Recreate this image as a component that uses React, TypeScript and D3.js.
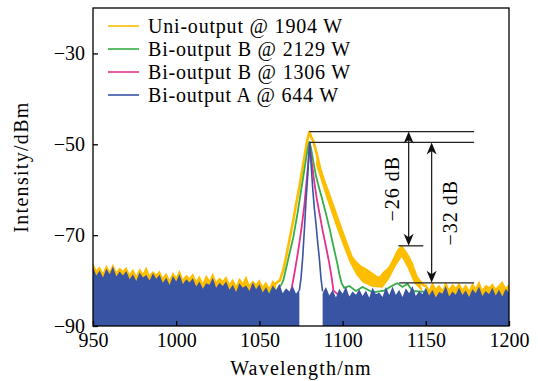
import React, { useEffect, useRef } from 'react';
import * as d3 from 'd3';

// sample grid for the noise floor (nm)
const floorWave = d3.range(950, 1201, 2);

// Bi-output A @ 644 W noise floor (dBm)
const blueFloor = [
  -77.0, -78.9, -77.8, -79.3, -77.4, -78.6, -76.9, -79.1, -78.0, -78.9,
  -77.9, -79.7, -78.6, -80.1, -78.2, -79.3, -78.8, -80.0, -78.4, -79.6,
  -78.7, -80.5, -79.4, -81.0, -79.0, -80.2, -78.6, -80.8, -79.7, -80.4,
  -79.5, -81.3, -80.2, -81.8, -80.6, -80.9, -79.4, -81.6, -80.5, -81.2,
  -80.2, -82.0, -80.9, -82.5, -80.6, -81.6, -81.1, -82.3, -80.4, -81.9,
  -80.8, -82.6, -81.4, -83.0, -81.1, -82.1, -80.7, -82.8, -81.7, -82.4,
  -81.2, -82.9, -81.9, -83.3, -81.5, -82.5, -81.1, -83.2, -82.0, -82.8,
  -81.4, -83.3, -82.1, -83.7, -81.8, -82.9, -81.3, -83.5, -82.4, -83.1,
  -81.9, -83.4, -82.2, -83.8, -81.5, -83.0, -82.6, -83.6, -81.4, -83.2,
  -81.3, -83.2, -82.0, -83.6, -81.7, -82.8, -81.2, -83.4, -82.3, -83.0,
  -81.6, -83.3, -82.1, -83.7, -82.5, -82.9, -81.2, -83.5, -82.4, -83.1,
  -81.5, -83.2, -82.2, -83.6, -81.9, -82.8, -81.3, -83.4, -82.3, -83.0,
  -81.6, -83.3, -82.0, -83.5, -81.8, -82.7,
];

// Uni-output @ 1904 W noise floor (dBm)
const yellowFloor = [
  -76.2, -77.6, -76.9, -78.2, -76.5, -77.9, -76.3, -78.0, -77.1, -77.8,
  -77.0, -78.5, -77.4, -78.9, -77.3, -78.4, -76.9, -78.8, -77.9, -78.6,
  -77.8, -79.3, -78.2, -79.8, -78.1, -79.2, -77.6, -79.6, -78.7, -79.4,
  -78.4, -80.0, -78.9, -80.5, -78.7, -79.9, -78.3, -80.2, -79.3, -80.0,
  -79.0, -80.6, -79.6, -81.1, -79.4, -80.5, -78.9, -80.9, -80.0, -80.7,
  -79.7, -81.2, -80.2, -81.5, -79.9, -81.0, -80.5, -81.3, -80.8, -81.4,
  -80.9, -81.6, -81.0, -81.8, -80.7, -81.5, -81.1, -81.9, -80.8, -81.6,
  -81.0, -81.7, -80.9, -81.8, -81.2, -81.6, -80.8, -81.9, -81.1, -81.7,
  -81.0, -81.8, -81.2, -81.9, -80.9, -81.7, -81.3, -81.8, -81.0, -81.6,
  -80.8, -81.7, -81.1, -81.9, -81.0, -81.6, -80.9, -81.8, -81.2, -81.5,
  -80.6, -81.9, -80.3, -81.7, -80.9, -82.0, -80.2, -81.8, -80.7, -81.5,
  -80.4, -81.8, -80.8, -82.0, -80.5, -81.6, -80.0, -81.9, -80.9, -81.4,
  -80.6, -81.7, -80.9, -80.1, -81.5, -80.8,
];

// peak regions [wavelength nm, dBm]
const yellowPeak: [number, number][] = [
  [1058, -81.2], [1060, -80.6], [1062.4, -79.9], [1064.5, -77.5], [1066.5, -74],
  [1068.4, -70.4], [1070.5, -66.5], [1072.3, -62.7], [1074, -59.4], [1075.8, -55.5],
  [1077.4, -52], [1078.8, -49], [1080, -47.3], [1081, -48.3], [1082.4, -49.3],
  [1084.4, -52], [1086.5, -55.3], [1089, -58.2], [1092.4, -61.6], [1096, -65.4],
  [1099.4, -68.9], [1102.5, -72], [1105.4, -74.8], [1108, -76], [1111, -77],
  [1114.5, -77.7], [1118, -78.6], [1121, -79.4], [1123, -79.2], [1124.5, -78.4],
  [1126.5, -77.8], [1128.5, -77], [1131, -75.2], [1133.5, -73.3], [1135.5, -72.6],
  [1137.5, -73.6], [1139.5, -74.8], [1141.5, -76.2], [1143, -77.8], [1144.5, -79.2],
  [1146.5, -80.2], [1148.5, -81], [1150, -81.3],
];

// lower edge of the noisy yellow band in the tail
const yellowTailLow: [number, number][] = [
  [1084, -54.5], [1090, -61.5], [1096, -68], [1100, -72], [1104, -75.8],
  [1108, -78.6], [1112, -80.4], [1118, -81.4], [1124, -81.6], [1128, -79.6],
  [1132, -76.8], [1135.5, -74.8], [1139, -77.2], [1143, -80.6], [1148, -82.4],
];

const greenPeak: [number, number][] = [
  [1056, -83], [1058, -81.6], [1060, -82.6], [1062, -81.4], [1063, -81], [1064.4, -79.9],
  [1066, -77.4], [1068, -74.2], [1070.4, -70.4], [1073, -65], [1075.4, -59.4],
  [1077.5, -54.5], [1079, -51], [1080, -49.4], [1081, -50.8], [1082.5, -54],
  [1084, -57], [1086, -59.8], [1087.4, -61.6], [1090, -65.3], [1092.4, -68.9],
  [1094.5, -72.5], [1096.8, -76.2], [1098, -78.5], [1099.4, -80.6], [1101, -81.6],
  [1104, -81.2], [1108, -82.3], [1112, -81.4], [1118, -82.6], [1125, -82.2],
  [1130, -81.1], [1133, -80.6], [1136, -81.4], [1139, -80.7], [1142, -82.3], [1150, -82.5],
];

const pinkPeak: [number, number][] = [
  [1062, -83.6], [1066, -83.2], [1068.5, -83], [1069.5, -81.5], [1071, -78.5],
  [1072.4, -75.5], [1074, -71.8], [1075.4, -68.2], [1077, -63.5], [1078.4, -58],
  [1079.4, -54], [1080.2, -50], [1081, -52.5], [1082.5, -57], [1084.4, -61.8],
  [1086, -65], [1088, -69], [1090, -72.5], [1092, -76.2], [1093.5, -79.5],
  [1094.5, -82.2], [1097, -83], [1100, -83.3],
];

const bluePeak: [number, number][] = [
  [1074, -82.2], [1075, -79.5], [1076, -75], [1077, -69], [1078, -62.5],
  [1079, -57], [1079.7, -52.5], [1080.3, -49.7], [1081, -54], [1082, -59.5],
  [1083, -64], [1084, -67.5], [1085, -71.5], [1086, -75], [1087, -79.5], [1088, -82.4],
];

const xTicks = [950, 1000, 1050, 1100, 1150, 1200];
const yTicks = [-90, -70, -50, -30];

const legendLabels = [
  'Uni-output @ 1904 W',
  'Bi-output B @ 2129 W',
  'Bi-output B @ 1306 W',
  'Bi-output A @ 644 W',
];
const colors = ['#FDBE00', '#37AE4A', '#E5318C', '#3A54A4'];

// annotation levels (dBm)
const uniPeakLevel = -47.2;
const biPeakLevel = -49.6;
const sidePeakLevel = -72.35;
const floorLevel = -80.5;

const App = () => {
  const svgRef = useRef<SVGSVGElement>(null);

  useEffect(() => {
    const svg = d3.select(svgRef.current);
    svg.selectAll('*').remove();

    const W = 538;
    const H = 381;
    const margin = { top: 8, right: 29, bottom: 55, left: 93 };
    const font = '"Liberation Serif", "Times New Roman", serif';

    const x = d3.scaleLinear().domain([950, 1200]).range([margin.left, W - margin.right]);
    const y = d3.scaleLinear().domain([-90, -20]).range([H - margin.bottom, margin.top]);

    svg.append('defs').append('clipPath').attr('id', 'plotClip')
      .append('rect')
      .attr('x', margin.left).attr('y', margin.top)
      .attr('width', W - margin.left - margin.right)
      .attr('height', H - margin.top - margin.bottom);

    const plot = svg.append('g').attr('clip-path', 'url(#plotClip)');

    const line = d3.line<[number, number]>().x(d => x(d[0])).y(d => y(d[1]));
    const floorArea = (vals: number[], gap: [number, number]) => d3.area<number>()
      .defined((_, i) => floorWave[i] <= gap[0] || floorWave[i] >= gap[1])
      .x((_, i) => x(floorWave[i]))
      .y0(y(-90))
      .y1(d => y(d))(vals);

    // yellow: spiky floor + peak line + noisy tail band
    plot.append('path').attr('d', floorArea(yellowFloor, [1060, 1150])).attr('fill', colors[0]);
    const lo = yellowTailLow[0][0];
    const hi = yellowTailLow[yellowTailLow.length - 1][0];
    const band = [
      ...yellowPeak.filter(d => d[0] >= lo && d[0] <= hi),
      ...[...yellowTailLow].reverse(),
    ];
    plot.append('path').attr('d', line(band) + 'Z').attr('fill', colors[0]);
    plot.append('path').attr('d', line(yellowPeak)).attr('fill', 'none')
      .attr('stroke', colors[0]).attr('stroke-width', 2.6).attr('stroke-linejoin', 'round');

    // green, pink
    plot.append('path').attr('d', line(greenPeak)).attr('fill', 'none')
      .attr('stroke', colors[1]).attr('stroke-width', 1.8);
    plot.append('path').attr('d', line(pinkPeak)).attr('fill', 'none')
      .attr('stroke', colors[2]).attr('stroke-width', 1.8);

    // blue: noise floor fills down to the axis, peak is a line
    plot.append('path').attr('d', floorArea(blueFloor, [1074, 1088])).attr('fill', colors[3]);
    plot.append('path').attr('d', line(bluePeak)).attr('fill', 'none')
      .attr('stroke', colors[3]).attr('stroke-width', 1.6);

    // frame
    svg.append('rect')
      .attr('x', margin.left).attr('y', margin.top)
      .attr('width', W - margin.left - margin.right)
      .attr('height', H - margin.top - margin.bottom)
      .attr('fill', 'none').attr('stroke', '#000').attr('stroke-width', 1.3);

    const fmt = (d: number) => (d < 0 ? `\u2212${-d}` : `${d}`);

    const xAxis = svg.append('g')
      .attr('transform', `translate(0,${H - margin.bottom})`)
      .call(d3.axisBottom(x).tickValues(xTicks).tickSize(-5).tickPadding(7).tickFormat(d => `${d}`));
    xAxis.select('.domain').remove();
    xAxis.selectAll('line').attr('stroke', '#000').attr('stroke-width', 1.3);
    xAxis.selectAll('text').attr('font-family', font).attr('font-size', 20).attr('fill', '#000');

    const yAxis = svg.append('g')
      .attr('transform', `translate(${margin.left},0)`)
      .call(d3.axisLeft(y).tickValues(yTicks).tickSize(-5).tickPadding(8).tickFormat(d => fmt(+d)));
    yAxis.select('.domain').remove();
    yAxis.selectAll('line').attr('stroke', '#000').attr('stroke-width', 1.3);
    yAxis.selectAll('text').attr('font-family', font).attr('font-size', 20).attr('fill', '#000');

    // axis titles
    svg.append('text')
      .attr('x', (margin.left + W - margin.right) / 2).attr('y', 375)
      .attr('text-anchor', 'middle')
      .attr('font-family', font).attr('font-size', 20).attr('letter-spacing', 1.2)
      .text('Wavelength/nm');
    svg.append('text')
      .attr('transform', `translate(28,${(margin.top + H - margin.bottom) / 2}) rotate(-90)`)
      .attr('text-anchor', 'middle')
      .attr('font-family', font).attr('font-size', 20).attr('letter-spacing', 1.3)
      .text('Intensity/dBm');

    // legend
    const legend = svg.append('g');
    legendLabels.forEach((label, i) => {
      const ly = 26 + i * 23;
      legend.append('line')
        .attr('x1', 108).attr('x2', 139).attr('y1', ly).attr('y2', ly)
        .attr('stroke', colors[i]).attr('stroke-width', 1.6);
      legend.append('text')
        .attr('x', 148).attr('y', ly).attr('dy', '0.34em')
        .attr('font-family', font).attr('font-size', 20).attr('letter-spacing', 0.8)
        .text(label);
    });

    // annotations
    const ann = svg.append('g').attr('stroke', '#222').attr('stroke-width', 1.3);
    const hline = (w0: number, w1: number, v: number) => ann.append('line')
      .attr('x1', x(w0)).attr('x2', x(w1)).attr('y1', y(v)).attr('y2', y(v));
    hline(1080, 1179, uniPeakLevel);
    hline(1080, 1179, biPeakLevel);
    hline(1133.5, 1148.5, sidePeakLevel);
    hline(1134, 1179, floorLevel);

    const arrow = (w: number, v0: number, v1: number) => {
      const ax = x(w);
      const y0 = y(v0);
      const y1 = y(v1);
      ann.append('line').attr('x1', ax).attr('x2', ax).attr('y1', y0 + 4).attr('y2', y1 - 4);
      const head = (ty: number, dir: number) => svg.append('path')
        .attr('d', `M${ax},${ty} L${ax + 5},${ty + dir * 12} L${ax},${ty + dir * 8.5} L${ax - 5},${ty + dir * 12} Z`)
        .attr('fill', '#111');
      head(y0, 1);
      head(y1, -1);
    };
    arrow(1139.7, uniPeakLevel, sidePeakLevel);
    arrow(1153.5, biPeakLevel, floorLevel);

    const rotLabel = (px: number, v: number, t: string) => svg.append('text')
      .attr('transform', `translate(${px},${y(v)}) rotate(-90)`)
      .attr('text-anchor', 'middle').attr('dominant-baseline', 'central')
      .attr('font-family', font).attr('font-size', 20).attr('letter-spacing', 1)
      .text(t);
    rotLabel(x(1139.7) - 17, (uniPeakLevel + sidePeakLevel) / 2, '\u221226 dB');
    rotLabel(x(1153.5) + 18, (biPeakLevel + floorLevel) / 2, '\u221232 dB');
  }, []);

  return (
    <svg
      ref={svgRef}
      width={538}
      height={381}
      style={{ position: 'absolute', left: 0, top: 0, background: '#fff' }}
    />
  );
};

export default App;
